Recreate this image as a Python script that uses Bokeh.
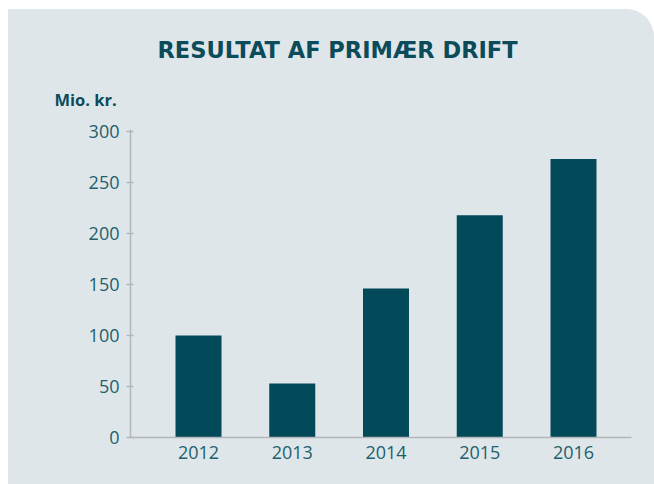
from bokeh.plotting import figure
from bokeh.models import Range1d, Title, FixedTicker
from bokeh.embed import file_html
from bokeh.resources import INLINE

# ---- data ----
years = [2012, 2013, 2014, 2015, 2016]
values = [100, 53, 146, 218, 273]
year_labels = ["2012", "2013", "2014", "2015", "2016"]
y_ticks = [0, 50, 100, 150, 200, 250, 300]
title_text = "RESULTAT AF PRIMÆR DRIFT"
unit_text = "Mio. kr."

# ---- style ----
PANEL = "#dfe6ea"
BAR = "#02495a"
DARK = "#0b4b5a"
TICK_TXT = "#225f6d"
AXIS = "#b2b6b8"

OX, OY = 8, 9            # panel offset on the page
W, H = 646, 475
ML, MR, MT, MB = 122, 23, 120, 47
frame_w = W - ML - MR
frame_h = H - MT - MB
spacing_px = 93.75
x_start = years[0] - 68 / spacing_px
x_end = x_start + frame_w / spacing_px
y_end = 302

p = figure(width=W, height=H, output_backend="svg", toolbar_location=None,
           x_range=Range1d(x_start, x_end), y_range=Range1d(0, y_end),
           min_border_left=ML, min_border_right=MR, min_border_top=MT,
           min_border_bottom=MB)
p.styles = {"border-top-right-radius": "28px", "overflow": "hidden",
            "margin-left": f"{OX}px", "margin-top": f"{OY}px",
            "background-color": PANEL}
p.background_fill_color = PANEL
p.border_fill_color = PANEL
p.outline_line_color = None
p.xgrid.grid_line_color = None
p.ygrid.grid_line_color = None

p.vbar(x=years, top=values, width=46 / spacing_px, bottom=0,
       fill_color=BAR, line_color=None)

# axes
p.xaxis.ticker = FixedTicker(ticks=years)
p.xaxis.major_label_overrides = {y: s for y, s in zip(years, year_labels)}
p.yaxis.ticker = FixedTicker(ticks=y_ticks)
for ax in (p.xaxis[0], p.yaxis[0]):
    ax.axis_line_color = AXIS
    ax.axis_line_width = 1.5
    ax.major_tick_line_color = AXIS
    ax.major_tick_line_width = 1.5
    ax.minor_tick_line_color = None
    ax.major_label_text_color = TICK_TXT
    ax.major_label_text_font = "Open Sans"
    ax.major_label_text_font_size = "18px"
p.xaxis.major_tick_out = 0
p.xaxis.major_tick_in = 0
p.xaxis.major_label_standoff = 8
p.yaxis.major_tick_out = 4
p.yaxis.major_tick_in = 3
p.yaxis.major_label_standoff = 7

# titles
p.title.text = title_text
p.title.align = "left"
p.title.offset = 157 - (ML + OX)
p.title.text_font = "DejaVu Sans"
p.title.text_font_style = "bold"
p.title.text_font_size = "22.5px"
p.title.text_color = DARK
p.title.standoff = 7

p.add_layout(Title(text=unit_text, align="left", offset=-(ML - (54 - OX)),
                   text_font="Open Sans", text_font_style="bold",
                   text_font_size="16.5px", text_color=DARK, standoff=38),
             "above")

open("out.html", "w").write(file_html(p, INLINE))
